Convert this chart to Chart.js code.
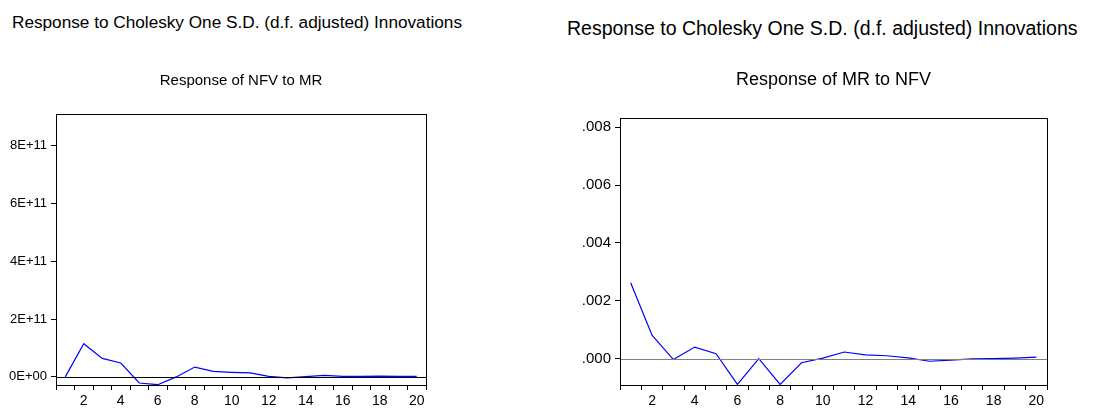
<!DOCTYPE html>
<html>
<head>
<meta charset="utf-8">
<script src="https://cdn.jsdelivr.net/npm/chart.js@4"></script>
<style>
  body { margin: 0; background: #fff; font-family: "Liberation Sans", Arial, sans-serif; }
  #wrap { position: relative; width: 1095px; height: 409px; overflow: hidden; }
  canvas { position: absolute; top: 0; }
  .main-title { position: absolute; white-space: nowrap; color: #000; }
</style>
</head>
<body>
<div id="wrap">
  <div class="main-title" style="left:12px; top:11px; font-size:17.2px; line-height:22px;">Response to Cholesky One S.D. (d.f. adjusted) Innovations</div>
  <div class="main-title" style="left:567px; top:16px; font-size:19.5px; line-height:24px;">Response to Cholesky One S.D. (d.f. adjusted) Innovations</div>
  <canvas id="nfvChart" width="440" height="409" style="left:0px;"></canvas>
  <canvas id="mrChart" width="547" height="409" style="left:548px;"></canvas>
</div>

<script>
/* ===============================
   DATA
================================ */
const periods = ["1","2","3","4","5","6","7","8","9","10",
                 "11","12","13","14","15","16","17","18","19","20"];

// Response of NFV to MR
const nfvToMr = [
  0, 1.15e11, 0.64e11, 0.48e11, -0.21e11, -0.27e11, 0.0, 0.34e11, 0.19e11, 0.16e11,
  0.14e11, 0.02e11, -0.03e11, 0.01e11, 0.05e11, 0.02e11, 0.02e11, 0.03e11, 0.02e11, 0.02e11
];

// Response of MR to NFV
const mrToNfv = [
  0.00262, 0.00081, -0.00003, 0.00040, 0.00017, -0.00089, 0.00000, -0.00089, -0.00014, 0.00002,
  0.00023, 0.00013, 0.00010, 0.00003, -0.00009, -0.00005, -0.00001, 0.00000, 0.00002, 0.00005
];

const nfvTickValues = [0, 2e11, 4e11, 6e11, 8e11];
const nfvTickLabels = ["0E+00", "2E+11", "4E+11", "6E+11", "8E+11"];
const mrTickValues = [0, 0.002, 0.004, 0.006, 0.008];
const mrTickLabels = [".000", ".002", ".004", ".006", ".008"];


/* ===============================
   FRAME + ZERO LINE PLUGIN
================================ */
const framePlugin = {
  id: "frame",
  afterDatasetsDraw(chart, args, opts) {
    const { ctx, chartArea: a, scales } = chart;
    const y0 = Math.round(scales.y.getPixelForValue(0)) + 0.5;
    ctx.save();
    ctx.lineWidth = 1;
    ctx.strokeStyle = opts.zeroColor;
    ctx.beginPath();
    ctx.moveTo(a.left, y0);
    ctx.lineTo(a.right, y0);
    ctx.stroke();
    ctx.strokeStyle = "#000";
    ctx.strokeRect(Math.round(a.left) + 0.5, Math.round(a.top) + 0.5,
                   Math.round(a.right - a.left), Math.round(a.bottom - a.top));
    ctx.restore();
  }
};


/* ===============================
   CHART BUILDER
================================ */
function buildChart(id, cfg) {
  return new Chart(document.getElementById(id), {
    type: "line",
    data: {
      labels: periods,
      datasets: [{
        data: cfg.values,
        borderColor: "#0000ff",
        borderWidth: 1.2,
        pointRadius: 0,
        tension: 0,
        fill: false
      }]
    },
    options: {
      responsive: false,
      animation: false,
      devicePixelRatio: 1,
      layout: { padding: { left: 0, right: cfg.padRight, top: 0, bottom: 0 } },
      plugins: {
        legend: { display: false },
        tooltip: { enabled: false },
        title: {
          display: true,
          text: cfg.title,
          fullSize: false,
          color: "#000",
          font: { family: "'Liberation Sans', Arial", size: cfg.titleSize, weight: "normal" },
          padding: { top: cfg.titleTop, bottom: cfg.titleBottom }
        },
        frame: { zeroColor: cfg.zeroColor }
      },
      scales: {
        x: {
          offset: true,
          grid: { offset: true, drawOnChartArea: false, drawTicks: true, tickLength: 5, color: "#000" },
          border: { display: false },
          ticks: {
            autoSkip: false,
            maxRotation: 0,
            padding: 3,
            color: "#000",
            font: { family: "'Liberation Sans', Arial", size: 14 },
            callback: (v, i) => (i % 2 === 1 ? periods[i] : "")
          },
          afterFit: s => { s.height = 24; }
        },
        y: {
          min: cfg.min,
          max: cfg.max,
          grid: { drawOnChartArea: false, drawTicks: true, tickLength: 5, color: "#000" },
          border: { display: false },
          afterBuildTicks: s => { s.ticks = cfg.tickValues.map(v => ({ value: v })); },
          ticks: {
            padding: 4,
            color: "#000",
            font: { family: "'Liberation Sans', Arial", size: cfg.yFont },
            callback: (v, i) => cfg.tickLabels[i]
          },
          afterFit: s => { s.width = cfg.axisWidth; }
        }
      }
    },
    plugins: [framePlugin]
  });
}

buildChart("nfvChart", {
  values: nfvToMr,
  title: "Response of NFV to MR",
  titleSize: 15,
  titleTop: 72,
  titleBottom: 24,
  min: -0.28e11,
  max: 9.1e11,
  tickValues: nfvTickValues,
  tickLabels: nfvTickLabels,
  yFont: 13,
  axisWidth: 56,
  padRight: 14,
  zeroColor: "#000"
});

buildChart("mrChart", {
  values: mrToNfv,
  title: "Response of MR to NFV",
  titleSize: 18,
  titleTop: 69,
  titleBottom: 27,
  min: -0.00091,
  max: 0.00833,
  tickValues: mrTickValues,
  tickLabels: mrTickLabels,
  yFont: 15,
  axisWidth: 72,
  padRight: 48,
  zeroColor: "#808080"
});
</script>
</body>
</html>
